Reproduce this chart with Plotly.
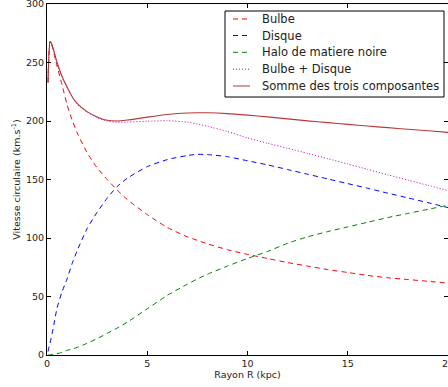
import plotly.graph_objects as go

# Radius (kpc)
r = [0.05, 0.1, 0.15, 0.2, 0.3, 0.5, 0.75, 1.0, 1.25, 1.5, 2.0, 2.5, 3.0, 3.5, 4.0, 5.0, 6.0, 7.0,
     7.5, 8.0, 9.0, 10.0, 11.0, 12.0, 13.0, 14.0, 15.0, 16.0, 17.0, 18.0, 19.0, 20.0]

bulbe = [233, 258, 268, 267, 261, 247, 231, 214, 201, 190, 173, 160, 150, 141, 133, 120, 109, 101,
         98, 95, 90, 86, 82.5, 79, 76, 73, 70.5, 68, 66, 64.5, 63, 61.5]

disque = [3, 7, 10, 14, 22, 40, 54, 65, 78, 89, 108, 122, 134, 144, 151, 161, 167, 170.5,
          171.5, 171.3, 169.5, 166, 162.5, 158.5, 154.5, 150.5, 146.5, 142.5, 138.3, 134.3, 130.2, 126]

halo = [0, 0, 0.2, 0.3, 0.6, 1.2, 2.2, 4, 5, 6.5, 10, 14, 18.5, 23, 28, 39.5, 51, 60.5,
        65, 69, 76, 82.5, 88.5, 95.5, 101, 105.5, 109.5, 113.5, 117.5, 121, 124.5, 128]

bulbe_disque = [233, 258, 268, 267, 262.3, 249.8, 237.8, 228.8, 220.8, 214.7, 207.6, 203, 199.8, 199, 199, 199.8, 200.2, 199,
                197.5, 195.5, 191, 185.5, 181, 176.7, 172.3, 167.8, 163.3, 158.6, 154, 149.5, 145, 140.5]

somme = [233, 258, 268, 267.2, 262.5, 250, 238, 229, 221, 215, 208, 203.5, 200.6, 200, 200.8, 203.3, 205.5, 206.8,
         207, 207, 206.3, 205, 203.5, 201.8, 200.1, 198.6, 197.1, 195.7, 194.3, 193, 191.7, 190.3]

noms = ["Bulbe", "Disque", "Halo de matiere noire", "Bulbe + Disque", "Somme des trois composantes"]
couleurs = ["#ff0000", "#0000ff", "#008000", "#bf00bf", "#b83838"]
tirets = ["5px,4px", "5px,4px", "5px,4px", "1px,2px", "solid"]
series = [bulbe, disque, halo, bulbe_disque, somme]

FONT = "DejaVu Sans"
W, H = 448, 387
ML, MR, MT, MB = 47, 0, 4, 32
PW, PH = W - ML - MR, H - MT - MB


def px(x):
    return (x - ML) / PW


def py(y):
    return (H - MB - y) / PH


fig = go.Figure()
for nom, col, dash, vals in zip(noms, couleurs, tirets, series):
    fig.add_trace(go.Scatter(x=r, y=vals, mode="lines", name=nom, showlegend=False,
                             line=dict(color=col, width=1.1 if dash == "solid" else 1, dash=dash,
                                       shape="spline", smoothing=0.6)))

axis_common = dict(
    showgrid=False, zeroline=False, showline=True, linecolor="black", linewidth=1,
    mirror="allticks", ticks="inside", ticklen=4, tickcolor="black", tickwidth=1,
    tickfont=dict(family=FONT, size=9.5, color="#222"), ticklabeloverflow="allow",
)

fig.update_xaxes(range=[0, 20], tickvals=[0, 5, 10, 15, 20],
                 title=dict(text="Rayon R (kpc)", font=dict(family=FONT, size=9.5, color="#222"), standoff=1),
                 **axis_common)
fig.update_yaxes(range=[0, 300], tickvals=[0, 50, 100, 150, 200, 250, 300],
                 title=dict(text="Vitesse circulaire (km.s<sup>-1</sup>)",
                            font=dict(family=FONT, size=9.5, color="#222"), standoff=3),
                 **axis_common)

# Legend drawn manually (box, line samples, labels)
shapes = [dict(type="rect", xref="paper", yref="paper", x0=px(225), x1=px(444), y0=py(11), y1=py(97),
               line=dict(color="black", width=1), fillcolor="white", layer="above")]
annotations = []
row_y = [19, 35.5, 52.3, 69.2, 86]
for nom, col, dash, yy in zip(noms, couleurs, tirets, row_y):
    shapes.append(dict(type="line", xref="paper", yref="paper", x0=px(233), x1=px(250), y0=py(yy), y1=py(yy),
                       line=dict(color=col, width=1, dash=dash), layer="above"))
    annotations.append(dict(text=nom, xref="paper", yref="paper", x=px(261), y=py(yy),
                            xanchor="left", yanchor="middle", showarrow=False,
                            font=dict(family=FONT, size=11.5, color="#222"), borderpad=0))

fig.update_layout(
    width=W, height=H,
    margin=dict(l=ML, r=MR, t=MT, b=MB, autoexpand=False),
    plot_bgcolor="white", paper_bgcolor="white",
    showlegend=False,
    shapes=shapes, annotations=annotations,
)

fig.write_html("out.html")
